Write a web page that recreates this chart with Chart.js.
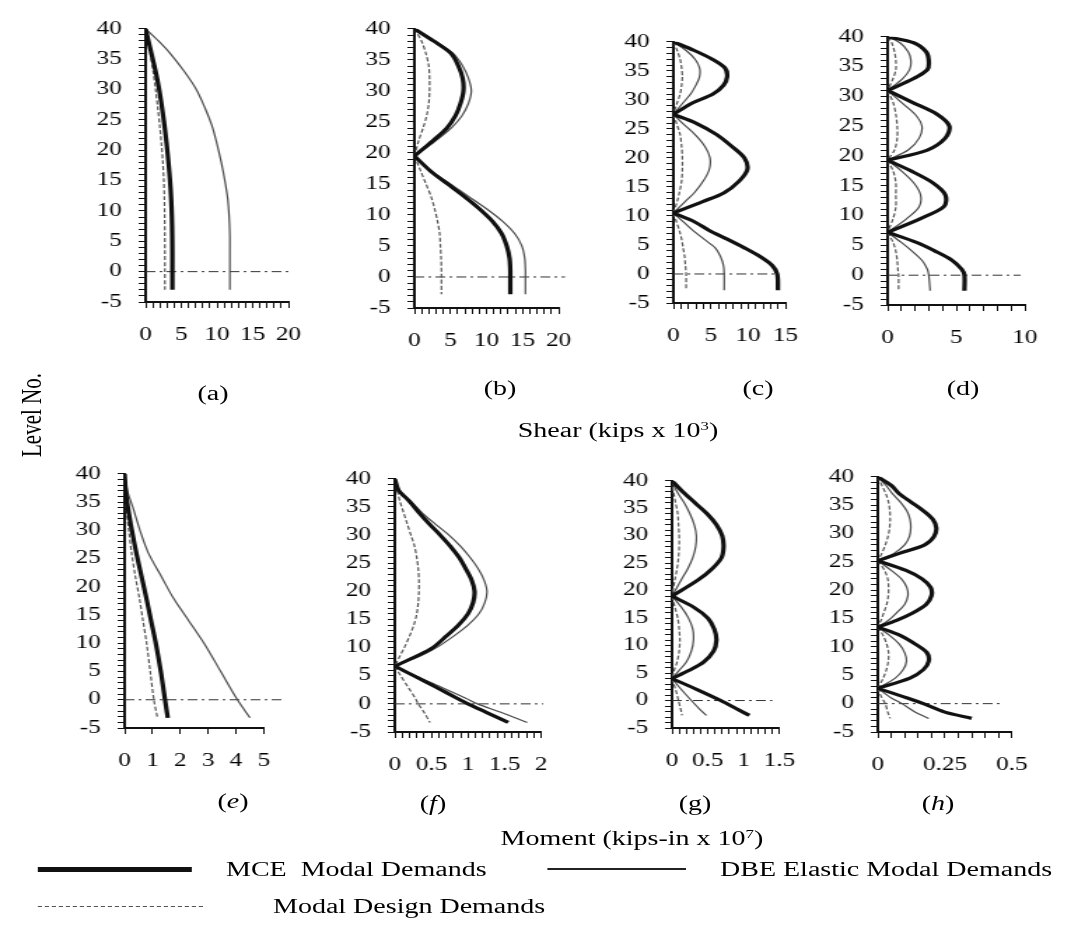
<!DOCTYPE html>
<html>
<head>
<meta charset="utf-8">
<title>Modal demands</title>
<script src="https://cdn.jsdelivr.net/npm/chart.js@4.4.1/dist/chart.umd.min.js"></script>
<style>
  html, body { margin: 0; padding: 0; background: #fff; }
  body { width: 1070px; height: 937px; overflow: hidden; position: relative; }
  #stage {
    position: absolute; left: 0; top: 0; width: 765px; height: 937px;
    transform: scaleX(1.4); transform-origin: 0 0;
    font-family: "Liberation Serif", "Times New Roman", serif; color: #000;
  }
  #stage canvas { position: absolute; }
  .txt { position: absolute; white-space: nowrap; font-size: 20px; line-height: 1; transform: translate(-50%, -50%); }
  .left { transform: translate(0, -50%); }
  .rot { transform: translate(-50%, -50%) rotate(-90deg); font-size: 21px; }
  .txt sup { font-size: 12px; vertical-align: 7px; }
  .key { position: absolute; height: 0; }
</style>
</head>
<body>
<div id="stage"></div>
<script>
// shear, kips x 10^3  (levels run from roof 40 down past the base)
const levelsA = [40, 38, 36, 33, 30, 27, 24, 21, 18, 15, 12, 9, 6, 3, 0, -3];
const mceA = [0, 0.4, 0.8, 1.4, 1.9, 2.3, 2.65, 2.95, 3.2, 3.42, 3.58, 3.68, 3.73, 3.75, 3.75, 3.75];
const dbeA = [0, 1.8, 3.4, 5.4, 7.1, 8.3, 9.3, 10.0, 10.6, 11.1, 11.5, 11.7, 11.8, 11.8, 11.8, 11.8];
const designA = [0, 0.35, 0.65, 1.05, 1.4, 1.7, 1.98, 2.22, 2.42, 2.55, 2.63, 2.67, 2.69, 2.7, 2.7, 2.7];
const ticksA = [0, 5, 10, 15, 20];

const levelsB = [40, 38, 36, 34, 32, 30, 28, 26, 24, 22, 19.5, 17, 15, 13, 11, 9, 7, 5, 3, 1, 0, -2.8];
const mceB = [0, 2.7, 5.1, 6.1, 6.7, 6.8, 6.4, 5.7, 4.5, 2.6, 0, 2.3, 4.6, 6.9, 9.0, 10.8, 12.1, 12.8, 13.2, 13.3, 13.3, 13.3];
const dbeB = [0, 2.9, 5.4, 6.7, 7.5, 7.9, 7.5, 6.6, 5.1, 3.0, 0, 2.4, 5.0, 7.5, 10.0, 12.2, 13.9, 14.9, 15.3, 15.4, 15.4, 15.4];
const designB = [0, 1.0, 1.6, 2.0, 2.1, 2.1, 2.0, 1.7, 1.2, 0.6, 0, 0.9, 1.6, 2.3, 2.8, 3.2, 3.5, 3.6, 3.7, 3.75, 3.75, 3.75];
const ticksB = [0, 5, 10, 15, 20];

const levelsC = [40, 38.5, 37, 35.5, 34, 32.5, 31, 29.5, 27.5, 26, 24, 22, 20, 18, 16, 14, 12.5, 10.5, 9, 7.5, 6, 4.5, 3, 1.5, 0, -2.8];
const mceC = [0, 2.8, 5.2, 6.9, 7.2, 6.7, 5.3, 2.6, 0, 3.0, 5.8, 7.8, 9.5, 9.9, 8.8, 6.8, 4.0, 0, 2.8, 4.8, 7.2, 9.5, 11.6, 13.2, 13.9, 14.0];
const dbeC = [0, 1.7, 2.9, 3.5, 3.5, 3.0, 2.3, 1.3, 0, 1.2, 2.9, 4.2, 4.9, 4.8, 4.0, 2.8, 1.6, 0, 1.3, 2.6, 4.1, 5.6, 6.3, 6.7, 6.8, 6.8];
const designC = [0, 0.5, 0.9, 1.1, 1.2, 1.1, 0.9, 0.5, 0, 0.4, 0.9, 1.1, 1.2, 1.2, 1.1, 0.8, 0.5, 0, 0.4, 0.8, 1.1, 1.3, 1.5, 1.6, 1.7, 1.7];
const ticksC = [0, 5, 10, 15];

const levelsD = [40, 39, 37.5, 36, 34.5, 33, 31, 29, 27, 25, 23, 21, 19.3, 17.5, 15.5, 13.5, 11.5, 9.5, 7.2, 5.5, 4, 2.5, 1, 0, -2.6];
const mceD = [0, 1.9, 2.8, 3.0, 2.9, 1.9, 0, 1.8, 3.6, 4.5, 4.2, 2.9, 0, 1.7, 3.3, 4.2, 4.1, 2.4, 0, 2.1, 3.5, 4.7, 5.4, 5.6, 5.6];
const dbeD = [0, 0.9, 1.5, 1.7, 1.6, 1.1, 0, 1.0, 2.0, 2.5, 2.3, 1.5, 0, 1.0, 1.9, 2.4, 2.3, 1.4, 0, 1.0, 1.8, 2.5, 2.9, 3.0, 3.1];
const designD = [0, 0.3, 0.5, 0.6, 0.6, 0.4, 0, 0.4, 0.6, 0.7, 0.7, 0.5, 0, 0.4, 0.6, 0.6, 0.6, 0.4, 0, 0.4, 0.6, 0.7, 0.75, 0.8, 0.8];
const ticksD = [0, 5, 10];

// moment, kips-in x 10^7
const levelsE = [40, 37, 34, 30, 26, 22, 18, 14, 10, 5, 0, -3.2];
const mceE = [0, 0.04, 0.12, 0.26, 0.42, 0.6, 0.78, 0.95, 1.12, 1.3, 1.45, 1.55];
const dbeE = [0, 0.1, 0.3, 0.55, 0.85, 1.3, 1.75, 2.3, 2.85, 3.45, 4.05, 4.5];
const designE = [0, 0.02, 0.06, 0.15, 0.25, 0.38, 0.53, 0.66, 0.79, 0.92, 1.05, 1.18];
const ticksE = [0, 1, 2, 3, 4, 5];

const levelsF = [40, 38, 36, 34, 32, 30, 28, 26, 24, 22, 20, 18, 16, 14, 12, 10, 8.5, 6.7, 5, 3, 1, 0, -1.5, -3.3];
const mceF = [0, 0.05, 0.2, 0.33, 0.47, 0.62, 0.76, 0.88, 0.97, 1.05, 1.09, 1.07, 1.0, 0.87, 0.7, 0.52, 0.3, 0, 0.26, 0.56, 0.85, 1.0, 1.25, 1.55];
const dbeF = [0, 0.06, 0.22, 0.37, 0.55, 0.74, 0.9, 1.03, 1.14, 1.22, 1.26, 1.23, 1.15, 1.0, 0.8, 0.57, 0.35, 0, 0.28, 0.63, 0.97, 1.13, 1.45, 1.81];
const designF = [0, 0.03, 0.07, 0.12, 0.17, 0.22, 0.27, 0.3, 0.32, 0.33, 0.33, 0.32, 0.3, 0.26, 0.2, 0.13, 0.07, 0, 0.08, 0.18, 0.28, 0.32, 0.4, 0.48];
const ticksF = [0, 0.5, 1, 1.5, 2];

const levelsG = [40, 38, 36, 34, 32, 30, 28, 26, 24, 22, 19, 17, 15, 13, 11, 9, 7, 5.5, 4, 2, 0, -1.5, -2.7];
const mceG = [0, 0.15, 0.32, 0.49, 0.62, 0.7, 0.72, 0.69, 0.56, 0.37, 0, 0.3, 0.5, 0.59, 0.62, 0.58, 0.44, 0.24, 0, 0.35, 0.68, 0.9, 1.08];
const dbeG = [0, 0.07, 0.17, 0.25, 0.31, 0.34, 0.33, 0.29, 0.22, 0.13, 0, 0.13, 0.23, 0.29, 0.3, 0.27, 0.2, 0.1, 0, 0.13, 0.27, 0.38, 0.48];
const designG = [0, 0.02, 0.05, 0.08, 0.09, 0.1, 0.1, 0.09, 0.07, 0.04, 0, 0.04, 0.08, 0.1, 0.11, 0.1, 0.07, 0.03, 0, 0.05, 0.09, 0.12, 0.14];
const ticksG = [0, 0.5, 1, 1.5];

const levelsH = [40, 38.5, 37, 35.5, 34, 32.5, 31, 29.5, 28, 26.5, 25.2, 23.5, 22, 20.5, 19, 17.5, 16, 14.7, 13.5, 12, 10.5, 9, 7.5, 6, 4.5, 2.7, 1, 0, -1.5, -2.6];
const mceH = [0, 0.05, 0.08, 0.125, 0.17, 0.205, 0.218, 0.21, 0.175, 0.08, 0, 0.105, 0.165, 0.197, 0.2, 0.18, 0.13, 0.07, 0, 0.085, 0.14, 0.183, 0.19, 0.17, 0.12, 0, 0.11, 0.17, 0.25, 0.35];
const dbeH = [0, 0.03, 0.055, 0.085, 0.108, 0.12, 0.123, 0.118, 0.1, 0.06, 0, 0.05, 0.088, 0.108, 0.112, 0.1, 0.07, 0.04, 0, 0.045, 0.08, 0.1, 0.107, 0.095, 0.065, 0, 0.05, 0.09, 0.14, 0.19];
const designH = [0, 0.015, 0.03, 0.04, 0.045, 0.046, 0.044, 0.038, 0.028, 0.015, 0, 0.025, 0.037, 0.04, 0.039, 0.033, 0.022, 0.012, 0, 0.02, 0.033, 0.04, 0.039, 0.032, 0.02, 0, 0.015, 0.028, 0.037, 0.046];
const ticksH = [0, 0.25, 0.5];

// the whole figure is drawn narrow and stretched sideways
const SX = 1.4;
const PAD = { l: 46, t: 14, r: 16, b: 42 };

// box = [left, right, top, bottom] of the plot area on the page
const panels = [
  { levels: levelsA, mce: mceA, dbe: dbeA, design: designA, ticks: ticksA, xMax: 20, step: 1, zeroEnd: 20.4, box: [145, 300, 20, 302] },
  { levels: levelsB, mce: mceB, dbe: dbeB, design: designB, ticks: ticksB, xMax: 20, step: 1, zeroEnd: 20.9, box: [415, 572, 20, 308] },
  { levels: levelsC, mce: mceC, dbe: dbeC, design: designC, ticks: ticksC, xMax: 15, step: 1, zeroEnd: 13.5, box: [673, 797, 33, 303] },
  { levels: levelsD, mce: mceD, dbe: dbeD, design: designD, ticks: ticksD, xMax: 10, step: 1, zeroEnd: 9.7, box: [888, 1038, 28, 305] },
  { levels: levelsE, mce: mceE, dbe: dbeE, design: designE, ticks: ticksE, xMax: 5, step: 1, zeroEnd: 5.75, box: [125, 270, 465, 728] },
  { levels: levelsF, mce: mceF, dbe: dbeF, design: designF, ticks: ticksF, xMax: 2, step: 0.1, zeroEnd: 2.03, box: [395, 548, 470, 732] },
  { levels: levelsG, mce: mceG, dbe: dbeG, design: designG, ticks: ticksG, xMax: 1.5, step: 0.1, zeroEnd: 1.4, box: [672, 795, 472, 728] },
  { levels: levelsH, mce: mceH, dbe: dbeH, design: designH, ticks: ticksH, xMax: 0.5, step: 0.05, zeroEnd: 0.46, box: [878, 1028, 468, 732] },
];

const seriesStyle = {
  mce: { borderColor: "#111", borderWidth: 3.2 },
  dbe: { borderColor: "#4a4a4a", borderWidth: 1.2 },
  design: { borderColor: "#555", borderWidth: 1.2, borderDash: [4, 2] },
};

Chart.defaults.font.family = "'Liberation Serif', 'Times New Roman', serif";
Chart.defaults.font.size = 18;
Chart.defaults.color = "#000";

const stage = document.getElementById("stage");

// split a profile at its interior zero crossings so each lobe ends in a sharp point
function lobes(levels, values) {
  const out = [];
  let cur = [];
  levels.forEach((lv, i) => {
    cur.push({ x: values[i], y: lv });
    if (values[i] === 0 && i > 0 && i < levels.length - 1) {
      out.push(cur);
      cur = [{ x: 0, y: lv }];
    }
  });
  out.push(cur);
  return out;
}

function buildDatasets(p) {
  const sets = [];
  ["mce", "dbe", "design"].forEach((key) => {
    lobes(p.levels, p[key]).forEach((seg) => {
      sets.push({
        data: seg,
        ...seriesStyle[key],
        tension: 0.3,
        pointRadius: 0,
        fill: false,
      });
    });
  });
  sets.push({
    data: [{ x: 0, y: 0 }, { x: p.zeroEnd, y: 0 }],
    borderColor: "#333",
    borderWidth: 1,
    borderDash: [7, 3, 2, 3],
    pointRadius: 0,
    clip: false,
  });
  return sets;
}

function createPanel(p) {
  const [l, r, t, b] = p.box;
  const plotW = (r - l) / SX;
  const canvas = document.createElement("canvas");
  const w = Math.round(plotW + PAD.l + PAD.r);
  const h = Math.round(b - t + PAD.t + PAD.b);
  canvas.width = w;
  canvas.height = h;
  canvas.style.width = w + "px";
  canvas.style.height = h + "px";
  canvas.style.left = (l / SX - PAD.l) + "px";
  canvas.style.top = (t - PAD.t) + "px";
  stage.appendChild(canvas);

  const axisLine = { display: true, color: "#111", width: 2 };
  const tickMarks = { drawOnChartArea: false, drawTicks: true, color: "#111", lineWidth: 1 };

  new Chart(canvas, {
    type: "line",
    data: { datasets: buildDatasets(p) },
    options: {
      responsive: false,
      animation: false,
      devicePixelRatio: 1,
      events: [],
      layout: { padding: { left: 0, top: PAD.t, right: PAD.r, bottom: 0 } },
      plugins: { legend: { display: false }, tooltip: { enabled: false } },
      scales: {
        x: {
          type: "linear",
          min: 0,
          max: p.xMax,
          border: axisLine,
          grid: { ...tickMarks, tickLength: 6 },
          afterFit: (scale) => { scale.height = PAD.b; },
          ticks: {
            stepSize: p.step,
            autoSkip: false,
            maxRotation: 0,
            minRotation: 0,
            padding: 16,
            callback: (v) => {
              const hit = p.ticks.find((tv) => Math.abs(tv - v) < 1e-9);
              return hit === undefined ? "" : String(hit);
            },
          },
        },
        y: {
          type: "linear",
          min: -5,
          max: 40,
          border: axisLine,
          grid: { ...tickMarks, tickLength: 5 },
          afterFit: (scale) => { scale.width = PAD.l; },
          ticks: {
            stepSize: 1,
            autoSkip: false,
            padding: 12,
            callback: (v) => (v % 5 === 0 ? String(v) : ""),
          },
        },
      },
    },
  });
}

panels.forEach(createPanel);

// text placed in page pixels
function addText(html, x, y, cls) {
  const el = document.createElement("div");
  el.className = "txt" + (cls ? " " + cls : "");
  el.innerHTML = html;
  el.style.left = (x / SX) + "px";
  el.style.top = y + "px";
  stage.appendChild(el);
}

function addKey(x1, x2, y, border) {
  const el = document.createElement("div");
  el.className = "key";
  el.style.left = (x1 / SX) + "px";
  el.style.width = ((x2 - x1) / SX) + "px";
  el.style.top = y + "px";
  el.style.borderTop = border;
  stage.appendChild(el);
}

addText("(a)", 213, 393);
addText("(b)", 500, 388);
addText("(c)", 758, 388);
addText("(d)", 963, 388);
addText("(<i>e</i>)", 233, 801);
addText("(<i>f</i>)", 433, 803);
addText("(g)", 695, 803);
addText("(<i>h</i>)", 938, 803);

addText("Level No.", 32, 415, "rot");
addText("Shear (kips x 10<sup>3</sup>)", 618, 430);
addText("Moment (kips-in x 10<sup>7</sup>)", 632, 838);

addKey(38, 192, 867, "5px solid #111");
addText("MCE&nbsp; Modal Demands", 226, 869, "left");
addKey(548, 686, 868, "2px solid #222");
addText("DBE Elastic Modal Demands", 720, 869, "left");
addKey(38, 203, 906, "1px dashed #555");
addText("Modal Design Demands", 273, 906, "left");
</script>
</body>
</html>
